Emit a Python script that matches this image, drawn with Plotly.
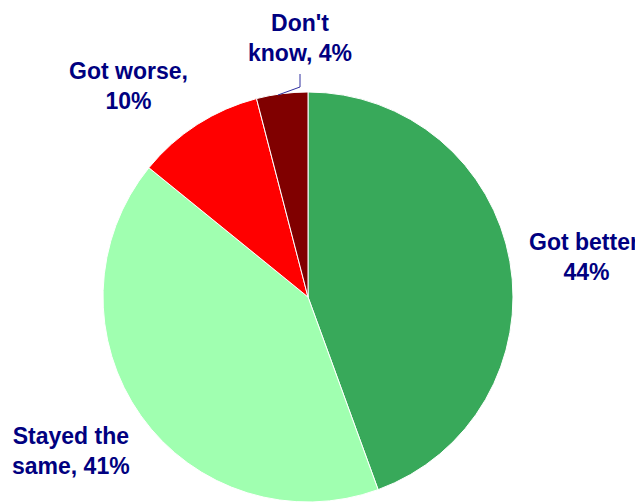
import plotly.graph_objects as go

labels = ["Got better", "Stayed the same", "Got worse", "Don't know"]
values = [44, 41, 10, 4]
label_text = ["Got better,<br>44%", "Stayed the<br>same, 41%", "Got worse,<br>10%", "Don't<br>know, 4%"]
colors = ["#38A95A", "#A0FFB0", "#FF0000", "#800000"]

OFF = 8                      # page body margin in the browser
W, H = 643 - OFF, 502 - OFF  # figure fills the visible window

# label block centres in window pixels (text placement only)
label_pos = [(586, 257), (71, 451), (128, 86), (300, 38)]


def px(x):
    return (x - OFF) / W


def py(y):
    return 1 - (y - OFF) / H


fig = go.Figure(go.Pie(
    labels=labels, values=values, sort=False, direction="clockwise", rotation=0,
    marker=dict(colors=colors, line=dict(color="white", width=1)),
    textinfo="none", hoverinfo="label+percent", showlegend=False,
    domain=dict(x=[px(103), px(513)], y=[0, py(92)]),
))

for txt, (x, y) in zip(label_text, label_pos):
    fig.add_annotation(
        x=px(x), y=py(y), xref="paper", yref="paper", text=txt,
        showarrow=False, xanchor="center", yanchor="middle", align="center",
        font=dict(family="Liberation Sans, Arial, sans-serif", size=23,
                  color="#000080", weight="bold"),
    )

# leader line for "Don't know"
pts = [(300, 74), (300, 87), (278, 95)]
path = "M " + " L ".join(f"{px(x)},{py(y)}" for x, y in pts)
fig.add_shape(type="path", path=path, xref="paper", yref="paper",
              line=dict(color="#3030A0", width=1))

fig.update_layout(
    width=W, height=H, margin=dict(l=0, r=0, t=0, b=0),
    paper_bgcolor="white", plot_bgcolor="white",
)
fig.write_html("out.html")
